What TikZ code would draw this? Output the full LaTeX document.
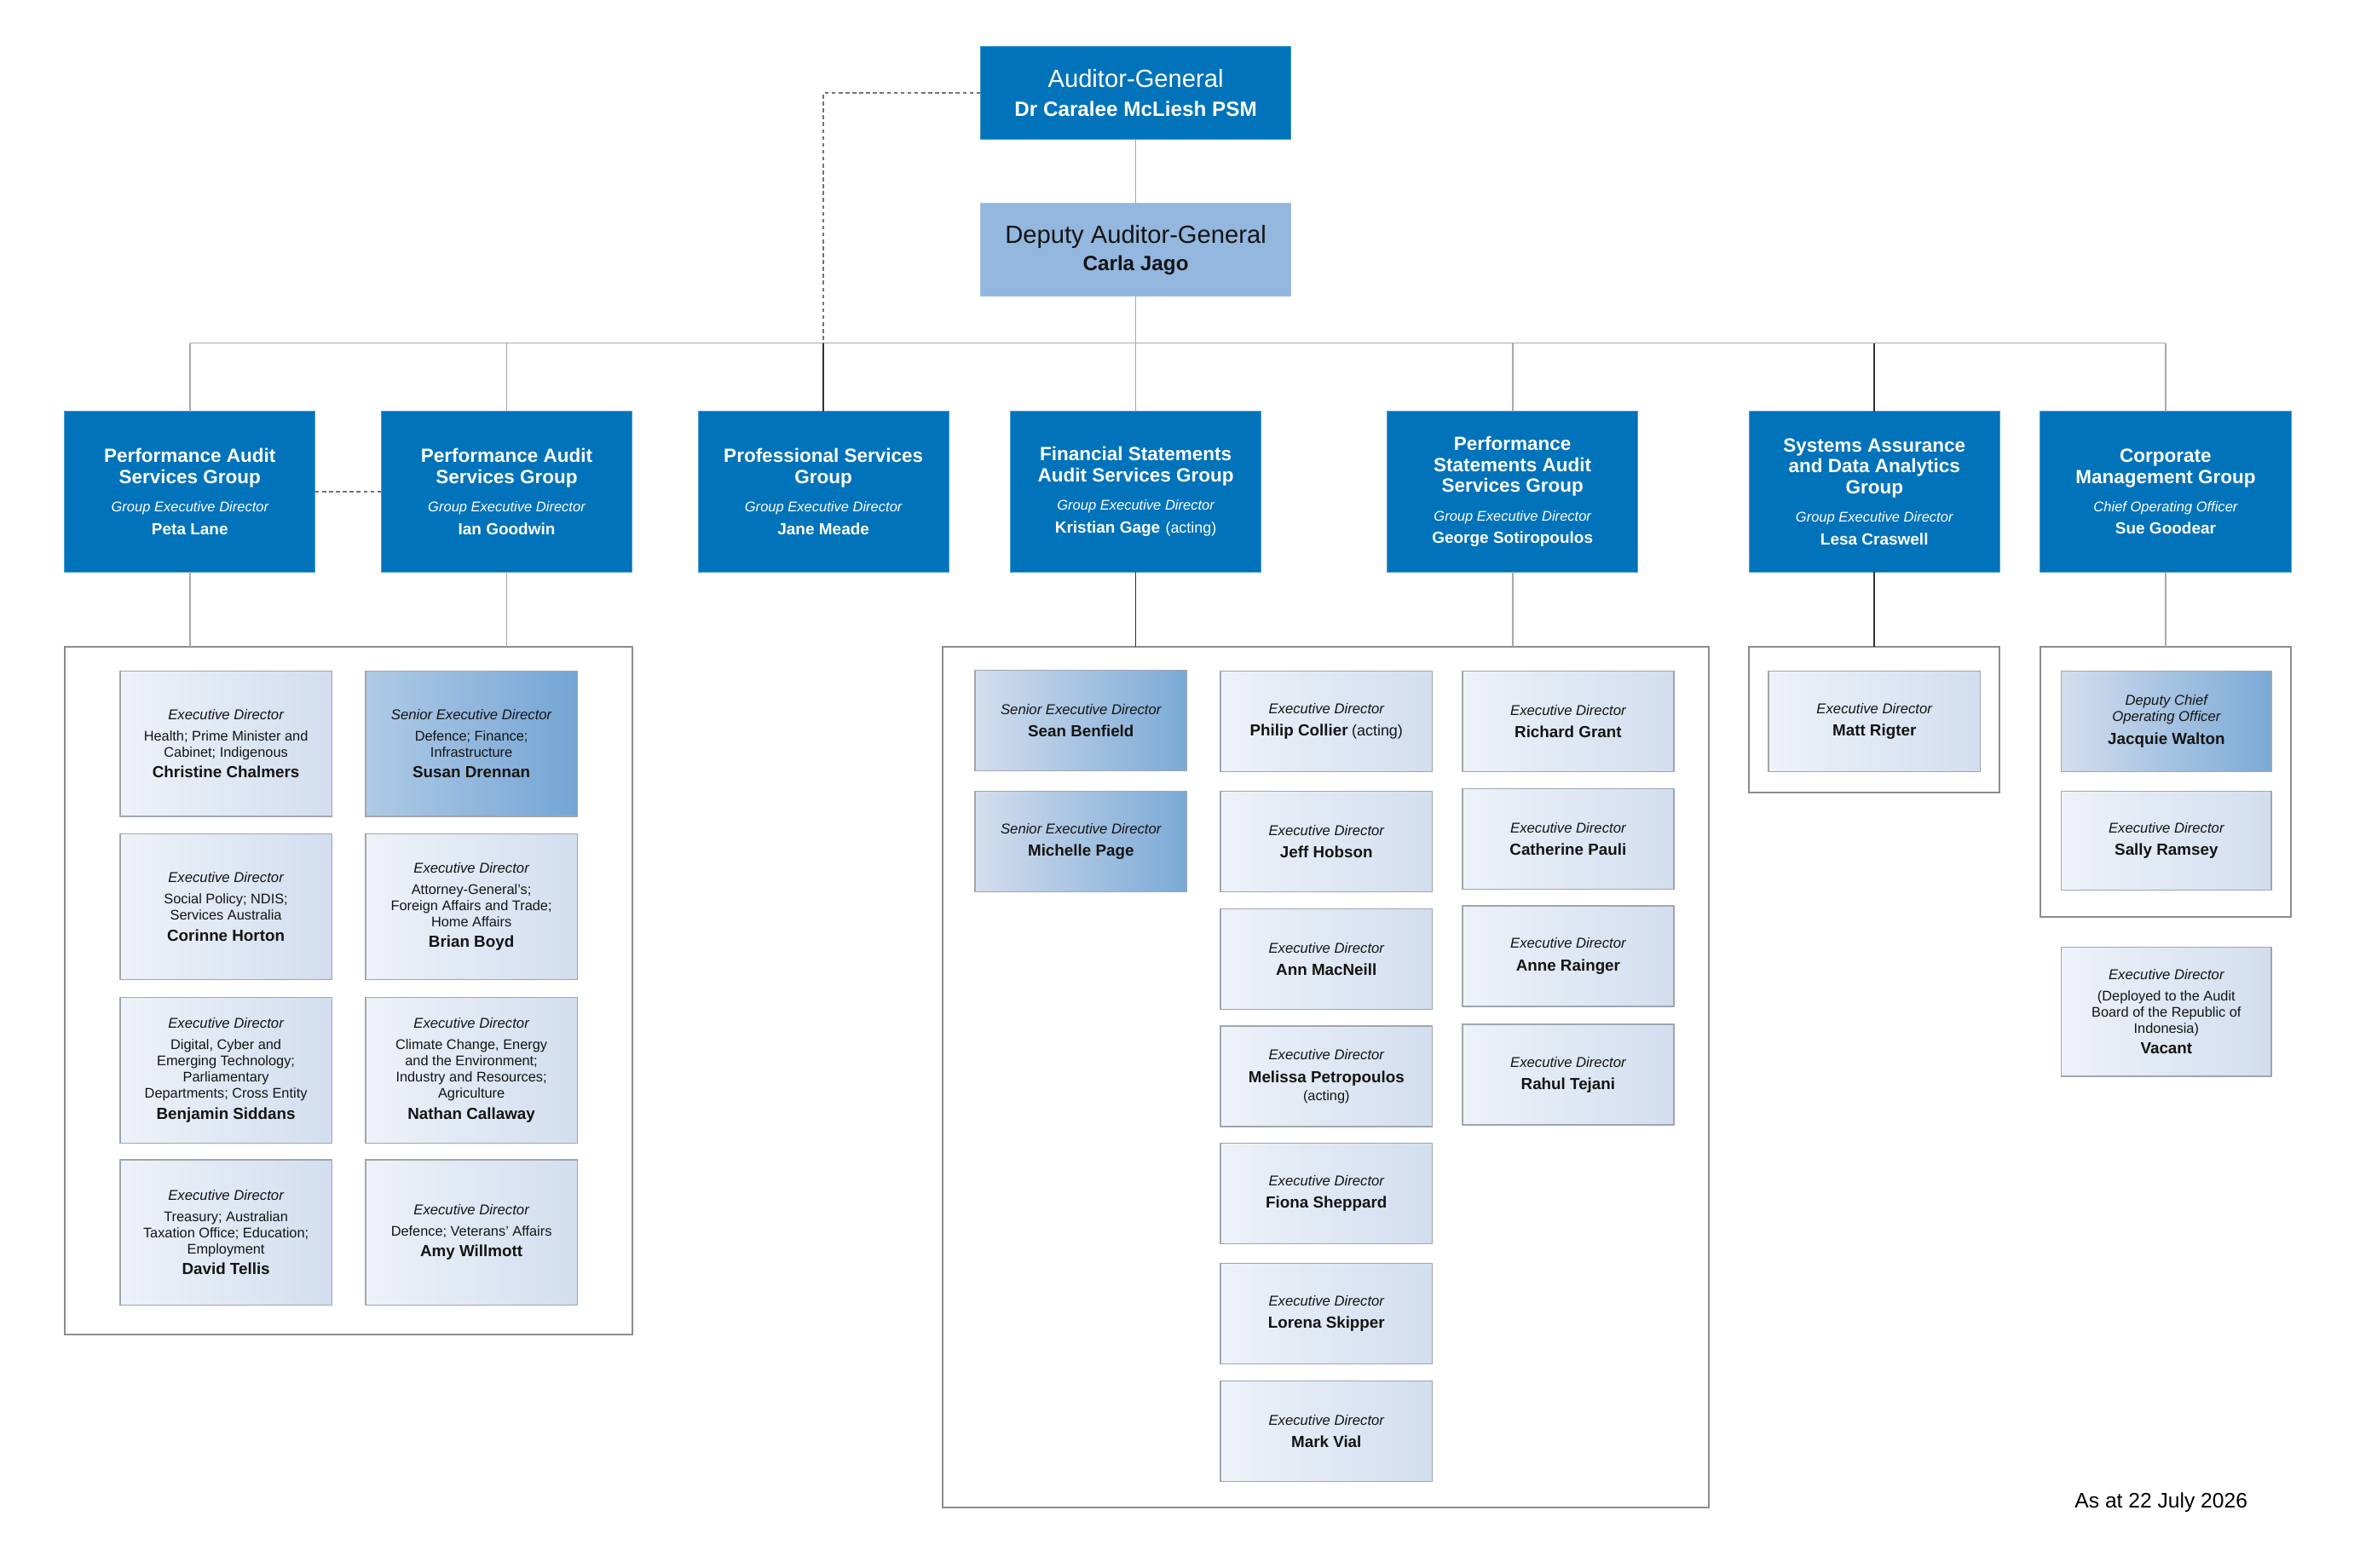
\documentclass[tikz,border=0pt]{standalone}
\usepackage{fontspec}
\setmainfont{Liberation Sans}
\usetikzlibrary{calc}
\definecolor{agblue}{RGB}{0,115,186}
\definecolor{depblue}{RGB}{147,183,222}
\definecolor{edL}{RGB}{238,242,249}
\definecolor{edR}{RGB}{210,222,239}
\definecolor{sedL}{RGB}{212,222,238}
\definecolor{sedR}{RGB}{122,169,214}
\definecolor{sedLb}{RGB}{176,202,230}
\definecolor{sedRb}{RGB}{116,165,213}
\definecolor{edborder}{RGB}{160,166,174}
\definecolor{contborder}{RGB}{140,140,140}
\definecolor{linegray}{RGB}{168,168,168}
\definecolor{txt}{RGB}{20,20,20}
\newcommand\pxu{0.017615cm}
\newcommand\grole[1]{{\fontsize{4.7pt}{5pt}\selectfont\mdseries\itshape #1}}
\newcommand\gname[1]{{\fontsize{5.4pt}{6pt}\selectfont\bfseries #1}}
\newcommand\erole[1]{{\fontsize{4.75pt}{5pt}\selectfont\itshape #1}}
\newcommand\ename[1]{{\fontsize{5.35pt}{6pt}\selectfont\bfseries #1}}
\newcommand\gact{{\fontsize{5.1pt}{6pt}\selectfont\mdseries (acting)}}
\tikzset{
  wh/.style 2 args={minimum width=#1*\pxu, minimum height=#2*\pxu},
  every node/.style={inner sep=0pt, outer sep=0pt},
  topbox/.style={rectangle, align=center, font=\fontsize{8.3pt}{9.5pt}\selectfont, wh={207}{62}},
  agbox/.style={topbox, fill=agblue, draw=agblue!75!white, line width=0.3pt, text=white},
  depbox/.style={topbox, fill=depblue, draw=depblue!85!white, line width=0.3pt, text=txt},
  grpbox/.style={rectangle, fill=agblue, draw=agblue!70!white, line width=0.3pt, text=white, align=center, font=\fontsize{6.4pt}{7pt}\selectfont\bfseries, wh={167}{107}},
  cont/.style={rectangle, draw=contborder, line width=0.55pt},
  edbox/.style={rectangle, left color=edL, right color=edR, draw=edborder, line width=0.45pt, align=center, text=txt, font=\fontsize{4.65pt}{5.4pt}\selectfont},
  sedbox/.style={edbox, left color=sedL, right color=sedR},
  sedboxb/.style={edbox, left color=sedLb, right color=sedRb},
  conn/.style={draw=linegray, line width=0.5pt},
  connk/.style={draw=black!80, line width=0.45pt},
  dashlink/.style={draw=black!55, line width=0.45pt, dash pattern=on 1.3pt off 1pt},
}
\begin{document}
\begin{tikzpicture}[x=0.017615cm, y=-0.017615cm]
\useasboundingbox (0,0) rectangle (1568,1044);
\coordinate (bar) at (0,228.5);

% top
\node[agbox] (ag) at (756.5,62) {Auditor-General\\{\fontsize{6.9pt}{8pt}\selectfont\bfseries Dr Caralee McLiesh PSM}};
\node[depbox] (dep) at (756.5,166.5) {Deputy Auditor-General\\[-0.5pt]{\fontsize{6.9pt}{8pt}\selectfont\bfseries Carla Jago}};

% groups
\node[grpbox] (p1) at (126.5,327.5) {Performance Audit\\Services Group\\[2.5pt]\grole{Group Executive Director}\\[0.5pt]\gname{Peta Lane}};
\node[grpbox] (p2) at (337.5,327.5) {Performance Audit\\Services Group\\[2.5pt]\grole{Group Executive Director}\\[0.5pt]\gname{Ian Goodwin}};
\node[grpbox] (psg) at (548.5,327.5) {Professional Services\\Group\\[2.5pt]\grole{Group Executive Director}\\[0.5pt]\gname{Jane Meade}};
\node[grpbox] (fsag) at (756.5,327.5) {Financial Statements\\Audit Services Group\\[2.5pt]\grole{Group Executive Director}\\[0.5pt]\gname{Kristian Gage}\ \gact};
\node[grpbox] (psas) at (1007.5,327.5) {Performance\\Statements Audit\\Services Group\\[2.5pt]\grole{Group Executive Director}\\[0.5pt]\gname{George Sotiropoulos}};
\node[grpbox] (sada) at (1248.5,327.5) {Systems Assurance\\and Data Analytics\\Group\\[2.5pt]\grole{Group Executive Director}\\[0.5pt]\gname{Lesa Craswell}};
\node[grpbox] (cmg) at (1442.5,327.5) {Corporate\\Management Group\\[2.5pt]\grole{Chief Operating Officer}\\[0.5pt]\gname{Sue Goodear}};

% containers
\node[cont, wh={378}{458}] (c1) at (232,660) {};
\node[cont, wh={510}{573}] (c2) at (883,717.5) {};
\node[cont, wh={167}{97}] (c3) at (1248.5,479.5) {};
\node[cont, wh={167}{180}] (c4) at (1442.5,521) {};

% left container
\node[edbox, wh={141}{97}] (cc) at (150.5,495.5) {\erole{Executive Director}\\[1.6pt]Health; Prime Minister and\\Cabinet; Indigenous\\[1.6pt]\ename{Christine Chalmers}};
\node[sedboxb, wh={141}{97}] (sd) at (314,495.5) {\erole{Senior Executive Director}\\[1.6pt]Defence; Finance;\\Infrastructure\\[1.6pt]\ename{Susan Drennan}};
\node[edbox, wh={141}{97}] (ch) at (150.5,604) {\erole{Executive Director}\\[1.6pt]Social Policy; NDIS;\\Services Australia\\[1.6pt]\ename{Corinne Horton}};
\node[edbox, wh={141}{97}] (bb) at (314,604) {\erole{Executive Director}\\[1.6pt]Attorney-General’s;\\Foreign Affairs and Trade;\\Home Affairs\\[1.6pt]\ename{Brian Boyd}};
\node[edbox, wh={141}{97}] (bs) at (150.5,713) {\erole{Executive Director}\\[1.6pt]Digital, Cyber and\\Emerging Technology;\\Parliamentary\\Departments; Cross Entity\\[1.6pt]\ename{Benjamin Siddans}};
\node[edbox, wh={141}{97}] (nc) at (314,713) {\erole{Executive Director}\\[1.6pt]Climate Change, Energy\\and the Environment;\\Industry and Resources;\\Agriculture\\[1.6pt]\ename{Nathan Callaway}};
\node[edbox, wh={141}{97}] (dt) at (150.5,821) {\erole{Executive Director}\\[1.6pt]Treasury; Australian\\Taxation Office; Education;\\Employment\\[1.6pt]\ename{David Tellis}};
\node[edbox, wh={141}{97}] (aw) at (314,821) {\erole{Executive Director}\\[1.6pt]Defence; Veterans’ Affairs\\[1.6pt]\ename{Amy Willmott}};

% FSAG / PSAS container
\node[sedbox, wh={141}{67}] (sb) at (720,480) {\erole{Senior Executive Director}\\[2.1pt]\ename{Sean Benfield}};
\node[sedbox, wh={141}{67}] (mpg) at (720,560.5) {\erole{Senior Executive Director}\\[2.1pt]\ename{Michelle Page}};
\node[edbox, wh={141}{67}] (pc) at (883.5,480.5) {\erole{Executive Director}\\[2.1pt]\ename{Philip Collier} {\fontsize{5.1pt}{6pt}\selectfont(acting)}};
\node[edbox, wh={141}{67}] (jh) at (883.5,560.5) {\erole{Executive Director}\\[2.1pt]\ename{Jeff Hobson}};
\node[edbox, wh={141}{67}] (amn) at (883.5,639) {\erole{Executive Director}\\[2.1pt]\ename{Ann MacNeill}};
\node[edbox, wh={141}{67}] (mpt) at (883.5,717) {\erole{Executive Director}\\[2.1pt]\ename{Melissa Petropoulos}\\[0.6pt](acting)};
\node[edbox, wh={141}{67}] (fs) at (883.5,795) {\erole{Executive Director}\\[2.1pt]\ename{Fiona Sheppard}};
\node[edbox, wh={141}{67}] (ls) at (883.5,875) {\erole{Executive Director}\\[2.1pt]\ename{Lorena Skipper}};
\node[edbox, wh={141}{67}] (mv) at (883.5,953.5) {\erole{Executive Director}\\[2.1pt]\ename{Mark Vial}};
\node[edbox, wh={141}{67}] (rg) at (1044.5,480.5) {\erole{Executive Director}\\[2.1pt]\ename{Richard Grant}};
\node[edbox, wh={141}{67}] (cp) at (1044.5,559) {\erole{Executive Director}\\[2.1pt]\ename{Catherine Pauli}};
\node[edbox, wh={141}{67}] (ar) at (1044.5,637) {\erole{Executive Director}\\[2.1pt]\ename{Anne Rainger}};
\node[edbox, wh={141}{67}] (rt) at (1044.5,716) {\erole{Executive Director}\\[2.1pt]\ename{Rahul Tejani}};

% SADA
\node[edbox, wh={141}{67}] (mr) at (1248.5,480.5) {\erole{Executive Director}\\[2.1pt]\ename{Matt Rigter}};

% CMG
\node[sedbox, wh={140}{67}] (jw) at (1443,480.5) {\erole{Deputy Chief}\\[0pt]\erole{Operating Officer}\\[2.1pt]\ename{Jacquie Walton}};
\node[edbox, wh={140}{66}] (sr) at (1443,560) {\erole{Executive Director}\\[2.1pt]\ename{Sally Ramsey}};
\node[edbox, wh={140}{86}] (vac) at (1443,674) {\erole{Executive Director}\\[1.6pt](Deployed to the Audit\\Board of the Republic of\\Indonesia)\\[1.6pt]\ename{Vacant}};

% date
\node[anchor=east, font=\fontsize{7pt}{8pt}\selectfont, text=black] (date) at (1497,1001) {As at 22 July 2026};

% connectors
\draw[conn] (ag) -- (dep);
\draw[conn] (dep.south) -- (dep.south |- bar);
\draw[conn] (p1.north |- bar) -- (cmg.north |- bar);
\draw[conn] (p1.north |- bar) -- (p1.north);
\draw[conn] (p2.north |- bar) -- (p2.north);
\draw[conn] (fsag.north |- bar) -- (fsag.north);
\draw[conn] (psas.north |- bar) -- (psas.north);
\draw[connk] (sada.north |- bar) -- (sada.north);
\draw[conn] (cmg.north |- bar) -- (cmg.north);
\draw[dashlink] (ag.west) -| (psg.north |- bar);
\draw[connk] (psg.north |- bar) -- (psg.north);
\draw[dashlink] (p1.east) -- (p2.west);
\draw[conn] (p1.south) -- (p1.south |- c1.north);
\draw[conn] (p2.south) -- (p2.south |- c1.north);
\draw[connk] (fsag.south) -- (fsag.south |- c2.north);
\draw[conn] (psas.south) -- (psas.south |- c2.north);
\draw[connk] (sada.south) -- (c3.north);
\draw[conn] (cmg.south) -- (c4.north);
\end{tikzpicture}
\end{document}
